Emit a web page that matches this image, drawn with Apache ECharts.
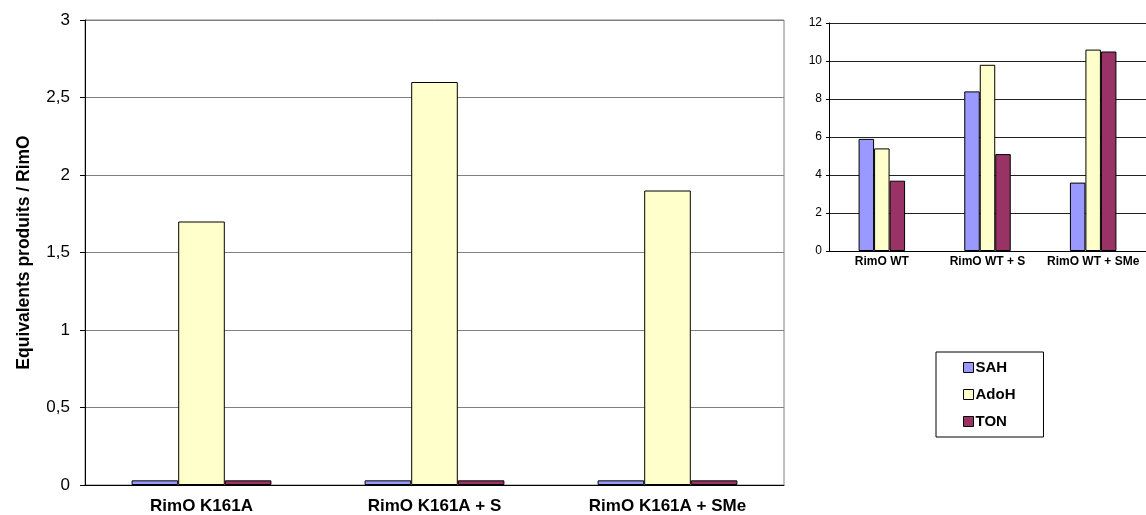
<!DOCTYPE html>
<html><head><meta charset="utf-8">
<script src="https://cdn.jsdelivr.net/npm/echarts@6/dist/echarts.min.js"></script>
<style>html,body{margin:0;padding:0;background:#fff}#c{width:1146px;height:515px}</style>
</head><body><div id="c"></div>
<script>
var mainCategories = ['RimO K161A', 'RimO K161A + S', 'RimO K161A + SMe'];
var mainSAH = [0.03, 0.03, 0.03];
var mainAdoH = [1.7, 2.6, 1.9];
var mainTON = [0.03, 0.03, 0.03];
var mainYTicks = [0, 0.5, 1, 1.5, 2, 2.5, 3];

var insetCategories = ['RimO WT', 'RimO WT + S', 'RimO WT + SMe'];
var insetSAH = [5.9, 8.4, 3.6];
var insetAdoH = [5.4, 9.8, 10.6];
var insetTON = [3.7, 5.1, 10.5];
var insetYTicks = [0, 2, 4, 6, 8, 10, 12];

var seriesNames = ['SAH', 'AdoH', 'TON'];
var seriesColors = ['#9999FF', '#FFFFCC', '#993366'];

var FONT = 'Liberation Sans, Arial, sans-serif';
var chart = echarts.init(document.getElementById('c'));

function bar(name, data, idx, color) {
  return {
    name: name, type: 'bar', xAxisIndex: idx, yAxisIndex: idx, data: data,
    barGap: '0%', barCategoryGap: idx === 0 ? '40%' : '56%',
    itemStyle: { color: color, borderColor: '#000', borderWidth: 1 },
    emphasis: { disabled: true }, animation: false
  };
}

chart.setOption({
  animation: false,
  grid: [
    { left: 85, right: 362, top: 20, bottom: 30, show: true, borderColor: '#808080', borderWidth: 1 },
    { left: 829, width: 321, top: 23, bottom: 264 }
  ],
  legend: {
    data: seriesNames,
    orient: 'vertical', left: 936, top: 352,
    padding: [8, 28, 8, 27], itemGap: 12,
    itemWidth: 10, itemHeight: 10,
    borderColor: '#000', borderWidth: 1,
    icon: 'rect',
    itemStyle: { borderColor: '#000', borderWidth: 1 },
    textStyle: { fontFamily: FONT, fontWeight: 'bold', fontSize: 15, color: '#000', padding: [0,0,0,-3] }
  },
  xAxis: [
    { type: 'category', gridIndex: 0, data: mainCategories,
      axisLine: { lineStyle: { color: '#000' } },
      axisTick: { length: 5, lineStyle: { color: '#000' } },
      axisLabel: { interval: 0, fontFamily: FONT, fontWeight: 'bold', fontSize: 17, color: '#000', margin: 13 } },
    { type: 'category', gridIndex: 1, data: insetCategories,
      axisLine: { lineStyle: { color: '#000' } },
      axisTick: { length: 4, lineStyle: { color: '#000' } },
      axisLabel: { interval: 0, hideOverlap: false, fontFamily: FONT, fontWeight: 'bold', fontSize: 12, color: '#000', margin: 5 } }
  ],
  yAxis: [
    { type: 'value', gridIndex: 0, min: mainYTicks[0], max: mainYTicks[mainYTicks.length - 1], interval: 0.5,
      name: 'Equivalents produits / RimO', nameLocation: 'middle', nameGap: 52,
      nameTextStyle: { fontFamily: FONT, fontWeight: 'bold', fontSize: 17.5, color: '#000' },
      axisLine: { show: true, lineStyle: { color: '#000' } },
      axisTick: { show: true, length: 5, lineStyle: { color: '#000' } },
      splitLine: { lineStyle: { color: '#808080' } },
      axisLabel: { fontFamily: FONT, fontSize: 17, color: '#000', margin: 15,
        formatter: function (v) { return String(v).replace('.', ','); } } },
    { type: 'value', gridIndex: 1, min: insetYTicks[0], max: insetYTicks[insetYTicks.length - 1], interval: 2,
      axisLine: { show: true, lineStyle: { color: '#000' } },
      axisTick: { show: true, length: 3, lineStyle: { color: '#000' } },
      splitLine: { lineStyle: { color: '#222' } },
      axisLabel: { fontFamily: FONT, fontSize: 12, color: '#000', margin: 7 } }
  ],
  series: [
    bar('SAH', mainSAH, 0, seriesColors[0]),
    bar('AdoH', mainAdoH, 0, seriesColors[1]),
    bar('TON', mainTON, 0, seriesColors[2]),
    bar('SAH', insetSAH, 1, seriesColors[0]),
    bar('AdoH', insetAdoH, 1, seriesColors[1]),
    bar('TON', insetTON, 1, seriesColors[2])
  ]
});
</script></body></html>
